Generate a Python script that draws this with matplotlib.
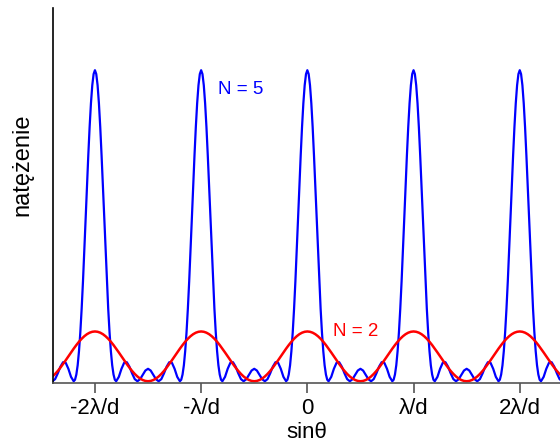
import matplotlib
matplotlib.use("Agg")
import matplotlib.pyplot as plt
import numpy as np

# ========================================
# Dane (jeden okres, od maksimum głównego do połowy odstępu)
# ========================================
# przesunięcie od maksimum głównego, w jednostkach λ/d
U5 = [0.0, 0.0125, 0.025, 0.0375, 0.05, 0.0625, 0.075, 0.0875, 0.1, 0.1125,
      0.125, 0.1375, 0.15, 0.1625, 0.175, 0.1875, 0.2, 0.225, 0.25, 0.275,
      0.3, 0.325, 0.35, 0.375, 0.4, 0.425, 0.45, 0.475, 0.5]
# natężenie dla N = 5
I5 = [25.0, 24.69, 23.79, 22.34, 20.43, 18.16, 15.66, 13.06, 10.47, 8.03,
      5.83, 3.94, 2.43, 1.29, 0.54, 0.12, 0.0, 0.35, 1.0, 1.48,
      1.53, 1.17, 0.63, 0.17, 0.0, 0.16, 0.51, 0.86, 1.0]

U2 = [0.0, 0.025, 0.05, 0.075, 0.1, 0.125, 0.15, 0.175, 0.2, 0.225, 0.25,
      0.275, 0.3, 0.325, 0.35, 0.375, 0.4, 0.425, 0.45, 0.475, 0.5]
# natężenie dla N = 2
I2 = [4.0, 3.975, 3.902, 3.782, 3.618, 3.414, 3.176, 2.908, 2.618, 2.313, 2.0,
      1.687, 1.382, 1.092, 0.824, 0.586, 0.382, 0.218, 0.098, 0.025, 0.0]

ORDERS = [-2, -1, 0, 1, 2]
TICK_LABELS = ["-2λ/d", "-λ/d", "0", "λ/d", "2λ/d"]


def krzywa(u, inten):
    """Składa pełną krzywą z profilu jednego okresu wokół każdego rzędu."""
    u = np.array(u)
    inten = np.array(inten)
    xs, ys = [], []
    for m in ORDERS:
        xs.append(m + np.concatenate([-u[::-1], u[1:]]))
        ys.append(np.concatenate([inten[::-1], inten[1:]]))
    return np.concatenate(xs), np.concatenate(ys)


plt.rcParams["font.family"] = ["Liberation Sans", "DejaVu Sans"]

fig = plt.figure(figsize=(5.6, 4.44), dpi=100)
ax = fig.add_axes([53.3 / 560, 0.138, 1 - 53.3 / 560, 0.844])

x5, y5 = krzywa(U5, I5)
x2, y2 = krzywa(U2, I2)
ax.plot(x5, y5, color="#0000ff", lw=1.6)
ax.plot(x2, y2, color="#ff0000", lw=1.8)

ax.set_xlim(-2.392, 2.379)
ax.set_ylim(-0.12, 30)

ax.spines["top"].set_visible(False)
ax.spines["right"].set_visible(False)
ax.spines["left"].set_color("black")
ax.spines["left"].set_linewidth(1.2)
ax.spines["bottom"].set_color("#555555")
ax.spines["bottom"].set_linewidth(1.2)

ax.set_yticks([])
ax.set_xticks(ORDERS)
ax.set_xticklabels(TICK_LABELS, fontsize=16)
ax.tick_params(axis="x", direction="out", length=7, width=1.2,
               color="#555555", pad=4)

ax.set_xlabel("sinθ", fontsize=16, labelpad=2)
fig.text(22 / 560, 1 - 165 / 444, "natężenie", rotation=90,
         ha="center", va="center", fontsize=17)

ax.text(-0.84, 23.1, "N = 5", color="#0000ff", fontsize=13.5)
ax.text(0.24, 3.66, "N = 2", color="#ff0000", fontsize=13.5)

fig.savefig("out.png", dpi=100)
